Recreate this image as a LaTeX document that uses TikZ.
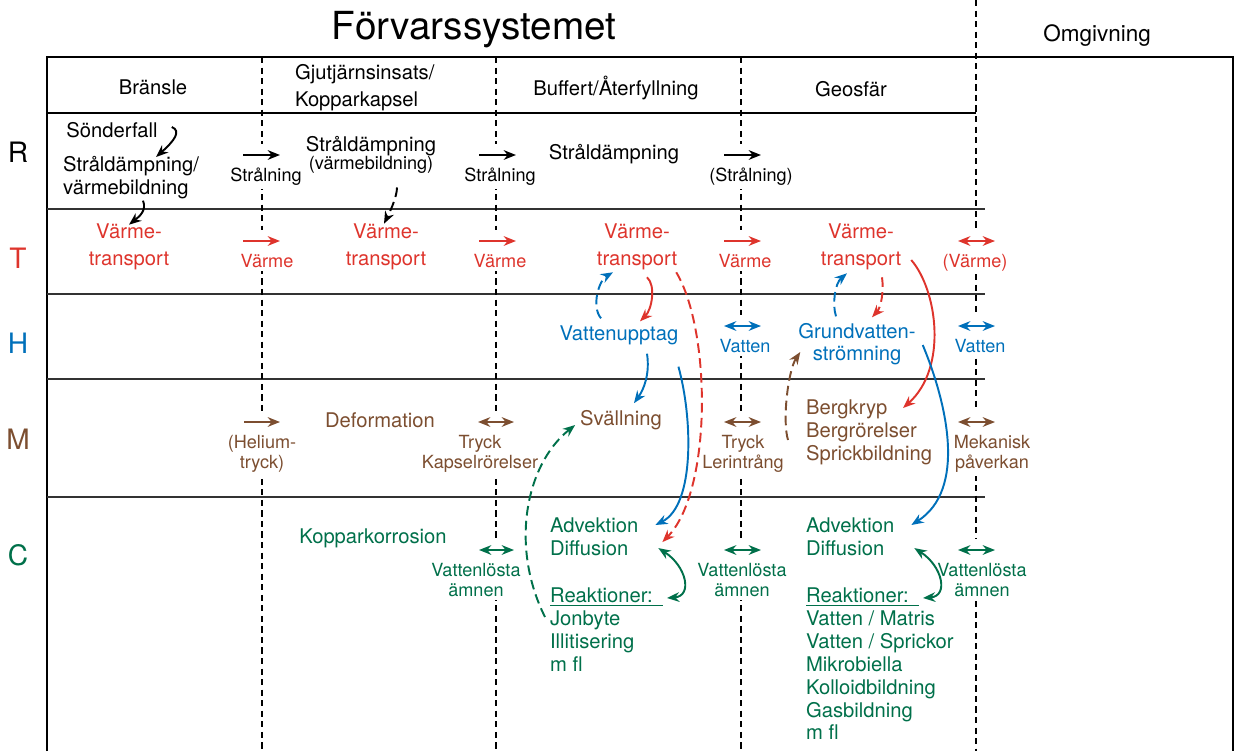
\documentclass[tikz,border=0pt]{standalone}
\usepackage{fontspec}
\setmainfont{TeX Gyre Heros}
\usetikzlibrary{arrows.meta,calc}

\definecolor{thermred}{RGB}{222,52,44}
\definecolor{hydroblue}{RGB}{0,112,186}
\definecolor{mechbrown}{RGB}{124,78,48}
\definecolor{chemgreen}{RGB}{0,112,74}

\begin{document}
\begin{tikzpicture}[x=0.2mm, y=-0.2mm,
  every node/.style={inner sep=1pt, font=\fontsize{11.5}{13}\selectfont},
  colhead/.style={align=left, font=\fontsize{11.5}{15.5}\selectfont},
  rowlab/.style={font=\fontsize{16}{18}\selectfont},
  pair/.style={align=center, font=\fontsize{11.5}{15.5}\selectfont},
  list/.style={align=left, anchor=north west},
  ifc/.style={fill=white, align=center, anchor=north, inner sep=2pt, font=\fontsize{10.3}{11.5}\selectfont},
  onehead/.style={arrows={-Stealth[length=7pt,width=5.5pt]}},
  twohead/.style={arrows={Stealth[length=7pt,width=5.5pt]-Stealth[length=7pt,width=5.5pt]}},
  flow/.style={line width=1.1pt},
  dsh/.style={dash pattern=on 5.5pt off 3pt},
  gap/.style={line width=1.1pt, preaction={draw=white, line width=12pt, arrows=-}},
  divider/.style={line width=0.6pt, dash pattern=on 3.5pt off 2.5pt},
  rowline/.style={line width=0.7pt, black!80}]

 \useasboundingbox (0,0) rectangle (1236,751);

 %frame and rows
 \draw[line width=1.6pt] (47,751) -- (47,57) -- (1233,57) -- (1233,751);
 \draw[line width=1.6pt] (47,113) -- (976,113);
 \draw[rowline] (47,209) -- (985,209);
 \draw[rowline] (47,294) -- (985,294);
 \draw[rowline] (47,379) -- (985,379);
 \draw[rowline] (47,497) -- (985,497);

 %barrier boundaries
 \draw[divider] (262,57) -- (262,751);
 \draw[divider] (496,57) -- (496,751);
 \draw[divider] (741,57) -- (741,751);
 \draw[divider] (976,0) -- (976,751);

 %titles
 \node[font=\fontsize{22}{24}\selectfont] (title) at (474,30) {Förvarssystemet};
 \node[font=\fontsize{12.8}{14}\selectfont] (omgiv) at (1097,36) {Omgivning};
 \node (bransle) at (153,87) {Bränsle};
 \node[colhead, anchor=north west] (kapsel) at (293,62) {Gjutjärnsinsats/\\Kopparkapsel};
 \node (buffert) at (616,88) {Buffert/Återfyllning};
 \node (geosfar) at (851,89) {Geosfär};

 %row labels
 \node[rowlab] (labR) at (18,152) {R};
 \node[rowlab, thermred] (labT) at (18,258) {T};
 \node[rowlab, hydroblue] (labH) at (18,343) {H};
 \node[rowlab, mechbrown] (labM) at (18,439) {M};
 \node[rowlab, chemgreen] (labC) at (18,555) {C};

 %R: radiation
 \node (sonder) at (112,130) {Sönderfall};
 \node[list] (sdamp1) at (61,154) {Stråldämpning/\\värmebildning};
 \node[align=center] (sdamp2) at (371,155) {Stråldämpning\\[-3pt]{\fontsize{10.3}{11.5}\selectfont(värmebildning)}};
 \node (sdamp3) at (614,154) {Stråldämpning};
 \node[ifc] (ifr1) at (266,164) {Strålning};
 \node[ifc] (ifr2) at (500,164) {Strålning};
 \node[ifc] (ifr3) at (751,164) {(Strålning)};
 \draw[onehead, gap] ($(ifr1.north)+(-23,-9)$) -- ++(37,0);
 \draw[onehead, gap] ($(ifr2.north)+(-21,-9)$) -- ++(37,0);
 \draw[onehead, gap] ($(ifr3.north)+(-27,-9)$) -- ++(37,0);

 %T: heat
 \node[pair, thermred] (vt1) at (129,247) {Värme-\\transport};
 \node[pair, thermred] (vt2) at (386,247) {Värme-\\transport};
 \node[pair, thermred] (vt3) at (637,247) {Värme-\\transport};
 \node[pair, thermred] (vt4) at (861,247) {Värme-\\transport};
 \node[thermred, ifc] (ift1) at (267,250) {Värme};
 \node[thermred, ifc] (ift2) at (500,250) {Värme};
 \node[thermred, ifc] (ift3) at (745,250) {Värme};
 \node[thermred, ifc] (ift4) at (975,250) {(Värme)};
 \draw[onehead, gap, thermred] ($(ift1.north)+(-24,-9)$) -- ++(37,0);
 \draw[onehead, gap, thermred] ($(ift2.north)+(-21,-9)$) -- ++(37,0);
 \draw[onehead, gap, thermred] ($(ift3.north)+(-21,-9)$) -- ++(37,0);
 \draw[twohead, gap, thermred] ($(ift4.north)+(-17,-9)$) -- ++(37,0);

 %H: hydrology
 \node[hydroblue] (vupp) at (619,335) {Vattenupptag};
 \node[align=center, hydroblue, font=\fontsize{11.5}{12.3}\selectfont] (grund) at (857,344) {Grundvatten-\\strömning};
 \node[hydroblue, ifc] (ifh1) at (745,335) {Vatten};
 \node[hydroblue, ifc] (ifh2) at (980,335) {Vatten};
 \draw[twohead, gap, hydroblue] ($(ifh1.north)+(-21,-9)$) -- ++(37,0);
 \draw[twohead, gap, hydroblue] ($(ifh2.north)+(-22,-9)$) -- ++(37,0);

 %M: mechanics
 \node[mechbrown] (deform) at (380,420) {Deformation};
 \node[mechbrown] (svall) at (621,420) {Svällning};
 \node[list, mechbrown] (berg) at (804,398) {Bergkryp\\Bergrörelser\\Sprickbildning};
 \node[mechbrown, ifc] (ifm1) at (262,431) {(Helium-\\tryck)};
 \node[mechbrown, ifc] (ifm2) at (480,431) {Tryck\\Kapselrörelser};
 \node[mechbrown, ifc] (ifm3) at (743,431) {Tryck\\Lerintrång};
 \node[mechbrown, ifc] (ifm4) at (992,431) {Mekanisk\\påverkan};
 \draw[onehead, gap, mechbrown] ($(ifm1.north)+(-18,-9)$) -- ++(36,0);
 \draw[twohead, gap, mechbrown] ($(ifm2.north)+(-2,-9)$) -- ++(36,0);
 \draw[twohead, gap, mechbrown] ($(ifm3.north)+(-19,-9)$) -- ++(37,0);
 \draw[twohead, gap, mechbrown] ($(ifm4.north)+(-34,-9)$) -- ++(37,0);

 %C: chemistry
 \node[chemgreen] (koppar) at (373,538) {Kopparkorrosion};
 \node[list, chemgreen] (adv1) at (548,516) {Advektion\\Diffusion};
 \node[list, chemgreen] (reak1) at (548,586) {\underline{Reaktioner:\hspace{6pt}}\\Jonbyte\\Illitisering\\m fl};
 \node[list, chemgreen] (adv2) at (804,516) {Advektion\\Diffusion};
 \node[list, chemgreen] (reak2) at (804,586) {\underline{Reaktioner:\hspace{6pt}}\\Vatten / Matris\\Vatten / Sprickor\\Mikrobiella\\Kolloidbildning\\Gasbildning\\m fl};
 \node[chemgreen, ifc] (ifc1) at (476,559) {Vattenlösta\\ämnen};
 \node[chemgreen, ifc] (ifc2) at (742,559) {Vattenlösta\\ämnen};
 \node[chemgreen, ifc] (ifc3) at (982,559) {Vattenlösta\\ämnen};
 \draw[twohead, gap, chemgreen] ($(ifc1.north)+(3,-9)$) -- ++(35,0);
 \draw[twohead, gap, chemgreen] ($(ifc2.north)+(-18,-9)$) -- ++(37,0);
 \draw[twohead, gap, chemgreen] ($(ifc3.north)+(-24,-9)$) -- ++(37,0);

 %couplings, fuel and canister
 \draw[onehead, flow] ($(sonder.east)+(12,-3)$) .. controls +(10,4) and +(18,-16) .. ($(sdamp1.north)+(25,3)$);
 \draw[onehead, flow] ($(sdamp1.south)+(12,0)$) .. controls +(4,10) and +(10,-8) .. ($(vt1.north)+(0,3)$);
 \draw[onehead, flow, dsh] ($(sdamp2.south)+(26,12)$) .. controls +(0,10) and +(5,-10) .. ($(vt2.north)+(-2,2)$);

 %couplings, buffer
 \draw[onehead, flow, dsh, hydroblue] ($(vupp.north)+(-18,-5)$) .. controls +(-10,-12) and +(-14,8) .. ($(vt3.south)+(-24,0)$);
 \draw[onehead, flow, thermred] ($(vt3.south)+(10,5)$) .. controls +(9,8) and +(12,-12) .. ($(vupp.north)+(21,-2)$);
 \draw[onehead, flow, hydroblue] ($(vupp.south)+(28,7)$) .. controls +(3,20) and +(10,-14) .. ($(svall.north)+(13,-5)$);
 \draw[onehead, flow, hydroblue] ($(vupp.south east)+(-2,20)$) .. controls +(14,50) and +(40,-20) .. ($(adv1.north east)+(15,9)$);
 \draw[onehead, flow, dsh, thermred] ($(vt3.south east)+(-3,0)$) .. controls +(35,58) and +(50,-51) .. ($(adv1.south east)+(22,-16)$);
 \draw[onehead, flow, dsh, chemgreen] ($(reak1.north west)+(-3,31)$) .. controls +(-35,-70) and +(-50,40) .. ($(svall.west)+(-3,5)$);
 \draw[twohead, flow, chemgreen] ($(adv1.south east)+(18,-10)$) .. controls +(28,18) and +(26,-2) .. ($(reak1.north west)+(119,12)$);

 %couplings, geosphere
 \draw[onehead, flow, dsh, hydroblue] ($(grund.north)+(-21,-5)$) .. controls +(-4,-12) and +(-12,10) .. ($(vt4.south)+(-14,1)$);
 \draw[onehead, flow, dsh, thermred] ($(vt4.south)+(21,5)$) .. controls +(2,14) and +(9,-10) .. ($(grund.north)+(15,-4)$);
 \draw[onehead, flow, thermred] ($(vt4.east)+(8,13)$) .. controls +(26,30) and +(45,-40) .. ($(berg.north west)+(99,10)$);
 \draw[onehead, flow, hydroblue] ($(grund.east)+(5,1)$) .. controls +(25,60) and +(55,-35) .. ($(adv2.north east)+(15,9)$);
 \draw[onehead, flow, dsh, mechbrown] ($(berg.north west)+(-16,42)$) .. controls +(-6,-20) and +(-12,18) .. ($(grund.west)+(4,8)$);
 \draw[twohead, flow, chemgreen] ($(adv2.south east)+(18,-10)$) .. controls +(28,18) and +(26,-2) .. ($(reak2.north west)+(119,12)$);
\end{tikzpicture}
\end{document}
